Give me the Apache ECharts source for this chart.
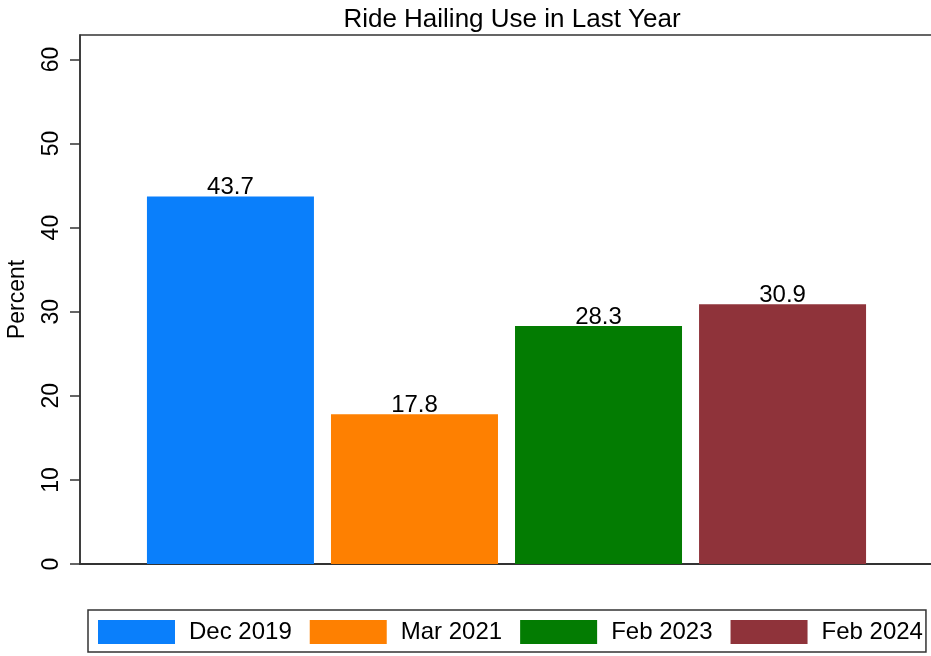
<!DOCTYPE html>
<html>
<head>
<meta charset="utf-8">
<title>Ride Hailing Use in Last Year</title>
<script src="https://cdn.jsdelivr.net/npm/echarts@6/dist/echarts.min.js"></script>
<style>
  html, body { margin: 0; padding: 0; background: #fff; }
  #chart { width: 931px; height: 656px; }
</style>
</head>
<body>
<div id="chart"></div>
<script>
// survey waves (one bar each) and share of respondents, in percent
var waves = ['Dec 2019', 'Mar 2021', 'Feb 2023', 'Feb 2024'];
var percents = [43.7, 17.8, 28.3, 30.9];
var colors = ['#0a7ffb', '#fe8001', '#037c02', '#8f333a'];
var yTicks = [0, 10, 20, 30, 40, 50, 60];

var font = "'Liberation Sans', Arial, Helvetica, sans-serif";

var chart = echarts.init(document.getElementById('chart'));

// one series per wave, all sharing a single category slot
var series = waves.map(function (name, i) {
    return {
        name: name,
        type: 'bar',
        barWidth: 167,
        barGap: '10.2%',
        itemStyle: { color: colors[i] },
        label: {
            show: true,
            position: 'top',
            distance: -3,
            color: '#000',
            fontFamily: font,
            fontSize: 24,
            formatter: function (p) { return p.value.toFixed(1); }
        },
        data: [percents[i]]
    };
});

var option = {
    backgroundColor: '#fff',
    animation: false,
    title: {
        text: 'Ride Hailing Use in Last Year',
        left: 507,
        textAlign: 'center',
        top: 2,
        textStyle: { fontFamily: font, fontSize: 26, fontWeight: 'normal', color: '#000' }
    },
    grid: {
        left: 80,
        top: 35,
        right: -2,
        bottom: 92,
        outerBoundsMode: 'none',
        show: true,
        borderColor: '#333',
        borderWidth: 1.5
    },
    legend: {
        left: 88,
        top: 610,
        width: 836,
        padding: [10, 3, 8, 10],
        itemWidth: 77,
        itemHeight: 24,
        itemGap: 18,
        borderColor: '#333',
        borderWidth: 1.5,
        icon: 'rect',
        selectedMode: false,
        textStyle: { fontFamily: font, fontSize: 24, color: '#000', padding: [0, 0, 0, 9] },
        data: waves
    },
    xAxis: {
        type: 'category',
        data: [''],
        axisLine: { show: true, lineStyle: { color: '#333', width: 2 } },
        axisTick: { show: false },
        axisLabel: { show: false }
    },
    yAxis: {
        type: 'value',
        min: yTicks[0],
        max: 62.9,
        interval: 10,
        name: 'Percent',
        nameLocation: 'middle',
        nameGap: 51,
        nameRotate: 90,
        nameTextStyle: { fontFamily: font, fontSize: 23, color: '#000' },
        axisLine: { show: true, lineStyle: { color: '#333', width: 1.5 } },
        axisTick: { show: true, length: 10, lineStyle: { color: '#333', width: 1.5 } },
        axisLabel: {
            rotate: 90,
            margin: 17,
            fontFamily: font,
            fontSize: 23,
            color: '#000',
            showMaxLabel: false,
            formatter: function (v) { return yTicks.indexOf(v) >= 0 ? String(v) : ''; }
        },
        splitLine: { show: false }
    },
    series: series
};

chart.setOption(option);
</script>
</body>
</html>
